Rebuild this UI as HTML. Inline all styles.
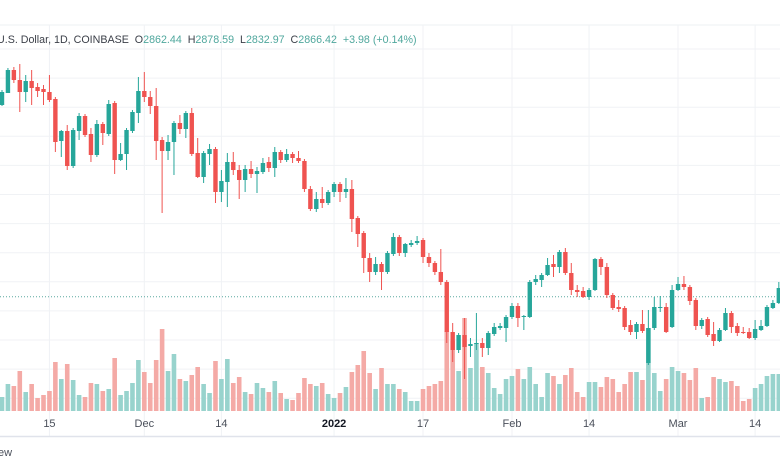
<!DOCTYPE html>
<html><head><meta charset="utf-8">
<style>
html,body{margin:0;padding:0;background:#fff;}
#wrap{position:relative;width:780px;height:470px;overflow:hidden;font-family:"Liberation Sans",sans-serif;}
svg{position:absolute;left:0;top:0;}
</style></head>
<body>
<div id="wrap">
<svg id="chart" width="780" height="470"></svg>
</div>
<script>
const opens=[4400,4496,4680,4600,4504,4592,4544,4528,4504,4448,4112,4192,3912,4192,4312,4168,4000,4248,4168,4416,3960,4008,4192,4336,4512,4464,4392,4120,4032,4104,4256,4208,4336,4016,3824,4008,4048,3704,3784,3944,3880,3800,3888,3848,3864,3944,3896,4024,3960,4008,3976,3952,3728,3568,3648,3616,3704,3768,3704,3728,3496,3376,3176,3064,3128,3064,3208,3344,3216,3280,3296,3320,3184,3136,3064,2984,2584,2440,2560,2472,2488,2496,2456,2568,2616,2616,2704,2792,2704,2704,2984,3000,3040,3128,3104,3224,3056,2920,2912,2864,2920,3168,3104,2880,2784,2776,2640,2584,2648,2336,2616,2776,2784,2624,2920,2968,2944,2840,2632,2688,2568,2512,2600,2736,2632,2584,2584,2536,2600,2632,2776,2816];
const closes=[4504,4680,4600,4504,4592,4536,4512,4504,4440,4104,4192,3912,4200,4312,4160,4000,4248,4176,4408,3960,4008,4200,4344,4512,4464,4392,4112,4032,4104,4256,4208,4336,4008,3824,4016,4048,3704,3792,3944,3880,3800,3888,3848,3872,3936,3896,4024,3960,4008,3976,3952,3728,3568,3648,3616,3704,3768,3704,3728,3488,3368,3176,3064,3128,3064,3216,3344,3216,3288,3296,3312,3184,3136,3064,2984,2584,2440,2560,2464,2488,2496,2456,2576,2624,2632,2704,2792,2696,2712,2984,3008,3040,3120,3104,3224,3056,2920,2904,2864,2920,3168,3104,2880,2776,2768,2624,2584,2648,2592,2616,2784,2784,2584,2920,2968,2944,2832,2632,2680,2560,2512,2600,2736,2624,2576,2576,2536,2608,2632,2784,2816,2936];
const highs=[4520,4696,4704,4728,4640,4680,4576,4560,4640,4464,4200,4240,4216,4336,4328,4216,4280,4264,4440,4432,4096,4216,4360,4624,4664,4512,4536,4144,4160,4272,4320,4352,4376,4136,4032,4088,4064,3880,4016,4024,3920,3920,3952,3904,3976,3984,4064,4040,4048,4024,4032,3968,3752,3704,3744,3720,3784,3784,3816,3800,3512,3392,3216,3184,3144,3232,3376,3360,3296,3320,3352,3336,3216,3152,3248,3000,2656,2576,2696,2536,2736,2536,2592,2656,2656,2720,2816,2816,2720,3000,3040,3056,3176,3200,3240,3256,3136,2960,2944,2936,3176,3184,3136,2896,2840,2792,2680,2664,2760,2760,2864,2872,2816,2960,3024,3032,2960,2856,2696,2704,2664,2616,2776,2752,2656,2624,2616,2680,2680,2800,2840,2984];
const lows=[4392,4496,4576,4344,4424,4400,4464,4400,4424,4024,3984,3880,3896,4120,4144,3944,3984,4080,4152,3848,3952,3880,4176,4256,4424,4328,3960,3536,3960,3840,4168,4136,3992,3816,3776,3920,3616,3624,3584,3840,3648,3704,3816,3696,3848,3864,3824,3936,3944,3936,3936,3704,3552,3544,3576,3600,3664,3624,3656,3384,3264,3056,2984,3040,2920,3048,3192,3192,3184,3264,3280,3136,3104,3040,2960,2496,2344,2416,2208,2384,2440,2384,2400,2552,2600,2504,2688,2624,2600,2696,2960,2944,3032,3024,3056,3040,2880,2864,2856,2840,2912,3040,2856,2760,2744,2600,2560,2528,2576,2320,2600,2744,2576,2616,2912,2920,2800,2600,2608,2544,2472,2504,2592,2576,2552,2568,2528,2520,2592,2624,2768,2808];
const volumes=[140,270,250,400,190,270,130,160,200,490,320,470,310,160,140,280,270,200,220,530,160,200,280,510,390,280,510,820,400,570,320,300,360,440,270,180,500,320,520,280,340,190,170,280,230,190,300,180,120,110,180,330,270,250,280,170,130,180,240,390,460,600,380,220,430,270,270,220,190,100,100,220,250,270,300,800,700,400,930,430,680,440,380,230,170,320,350,420,320,440,270,140,380,350,270,360,430,190,140,290,290,240,340,320,190,270,390,390,310,830,380,200,320,440,400,380,310,430,130,140,340,320,290,300,250,100,120,230,270,350,370,370];
const tickIdx=[8,24,37,56,71,86,99,114,127];
const tickLabels=["15","Dec","14","2022","17","Feb","14","Mar","14"];
const lastPrice=2866;

const NS="http://www.w3.org/2000/svg";
const svg=document.getElementById('chart');
const X0=2,STEP=5.93,VBASE=411;
function xOf(i){return X0+i*STEP;}
function yOf(p){return (5240-p)/8;}
function vh(v){return v/10;}
function mk(tag,attrs,parent){const e=document.createElementNS(NS,tag);for(const k in attrs)e.setAttribute(k,attrs[k]);(parent||svg).appendChild(e);return e;}

const grid=mk('g',{});


for(let k=0;k<13;k++){const y=49+k*29.1;mk('line',{x1:0,x2:780,y1:y,y2:y,stroke:'#f0f2f5','stroke-width':1},grid);}
mk('line',{x1:0,x2:780,y1:25,y2:25,stroke:'#eef0f3','stroke-width':1},grid);
tickIdx.forEach(i=>{const x=xOf(i);mk('line',{x1:x,x2:x,y1:25,y2:436,stroke:'#f0f2f5','stroke-width':1},grid);});

const vg=mk('g',{});


volumes.forEach((v,i)=>{
  const up=closes[i]>=opens[i];
  const h=vh(v);
  const r=mk('rect',{x:xOf(i)-2.3,y:VBASE-h,width:4.6,height:h,fill:up?'#98d3cd':'#f4aaa6'},vg);
  
  
});

const lp=mk('line',{x1:0,x2:780,y1:yOf(lastPrice),y2:yOf(lastPrice),stroke:'#5aa89f','stroke-width':1,'stroke-dasharray':'1,2'});



const cg=mk('g',{});


opens.forEach((o,i)=>{
  const c=closes[i],up=c>=o,col=up?'#26a69a':'#ef5350';
  const x=xOf(i);
  const g=mk('g',{},cg);
  
  
  mk('line',{x1:x,x2:x,y1:yOf(highs[i]),y2:yOf(lows[i]),stroke:col,'stroke-width':1},g);
  const top=yOf(Math.max(o,c)),bot=yOf(Math.min(o,c));
  mk('rect',{x:x-2.2,y:top,width:4.4,height:Math.max(1,bot-top),fill:col},g);
});

mk('rect',{x:0,y:436,width:780,height:34,fill:'#fff'});
const ax=mk('line',{x1:0,x2:780,y1:436.5,y2:436.5,stroke:'#e0e3eb','stroke-width':1.5});


tickIdx.forEach((i,k)=>{
  const t=mk('text',{x:xOf(i),y:427,'text-anchor':'middle','font-size':11,fill:tickLabels[k]==='2022'?'#131722':'#4a4f5a','font-family':'Liberation Sans, sans-serif','font-weight':tickLabels[k]==='2022'?'bold':'normal'});
  t.textContent=tickLabels[k];
  
  
});
const wm=mk('text',{x:-2,y:456,'font-size':11,fill:'#4a4f5a','font-family':'Liberation Sans, sans-serif'});
wm.textContent='ew';



const hd=mk('text',{x:-3,y:43,'font-size':10.7,fill:'#3c4049','font-family':'Liberation Sans, sans-serif'});


const parts=[["U.S. Dollar, 1D, COINBASE  ",'#3c4049'],["O",'#3c4049'],["2862.44  ",'#4fa79d'],["H",'#3c4049'],["2878.59  ",'#4fa79d'],["L",'#3c4049'],["2832.97  ",'#4fa79d'],["C",'#3c4049'],["2866.42  ",'#4fa79d'],["+3.98 (+0.14%)",'#4fa79d']];
parts.forEach(p=>{const s=mk('tspan',{fill:p[1]},hd);s.setAttribute('xml:space','preserve');s.textContent=p[0];});
hd.setAttribute('style','white-space:pre');
</script>
</body></html>
